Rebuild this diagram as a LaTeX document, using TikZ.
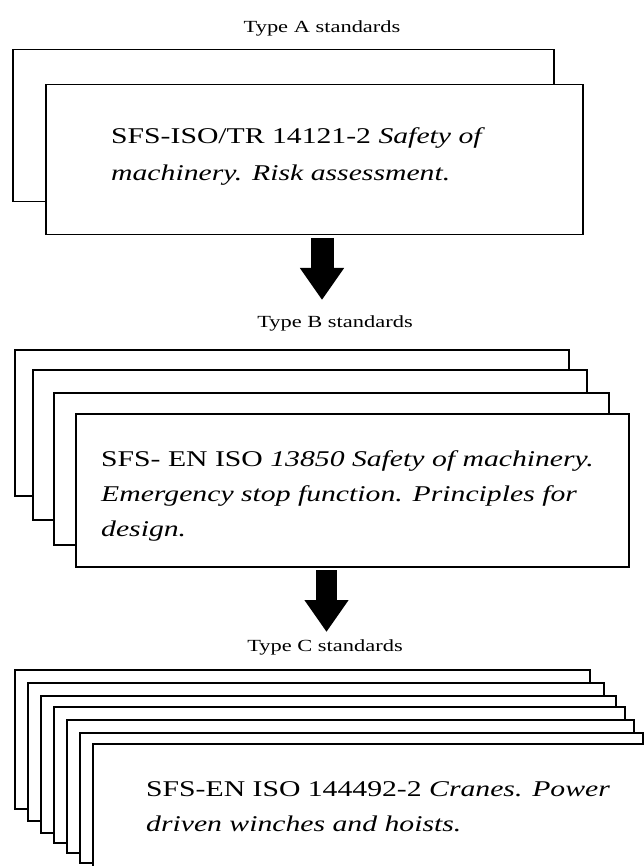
\documentclass[tikz,border=0pt]{standalone}
\usepackage{fontspec}
\setmainfont{Liberation Serif}[FakeStretch=1.32]
\usetikzlibrary{arrows.meta}
\newcommand\cardbox[5]{\node[card, anchor=north west, minimum width={(#4-#2)*1pt}, minimum height={(#5-#3)*1pt}] (#1) at (#2,#3) {};}
\begin{document}
\begin{tikzpicture}[x=1pt,y=-1pt,
  card/.style={draw=black, fill=white, line width=1.5pt, inner sep=0pt, rectangle},
  body/.style={font=\fontsize{22.5}{35}\selectfont, anchor=base west, inner sep=0pt},
  lbl/.style={font=\fontsize{17}{20}\selectfont, anchor=base, inner sep=0pt},
  blockarrow/.style={line width=#1, -{Triangle[width=42pt,length=32pt]}}]
\useasboundingbox (0,0) rectangle (644,866);
\clip (0,0) rectangle (644,866);
% Type A
\node[lbl] (la) at (322,33) {Type A standards};
\cardbox{a1}{12}{49}{553}{201}
\cardbox{a2}{45}{84}{582}{234}
\node[body] (at1) at (111,144) {SFS-ISO/TR 14121-2 \textit{Safety of}};
\node[body] (at2) at (111,181) {\textit{machinery. Risk assessment.}};
% arrow 1
\coordinate (r1s) at (322,238);
\coordinate (r1e) at (322,300);
\draw[blockarrow=23pt] (r1s) -- (r1e);
% Type B
\node[lbl] (lb) at (335,327) {Type B standards};
\cardbox{b1}{14}{349}{568}{495}
\cardbox{b2}{32}{369}{586}{519}
\cardbox{b3}{53}{392}{608}{544}
\cardbox{b4}{75}{413}{628}{566}
\node[body] (bt1) at (101,466) {SFS- EN ISO \textit{13850 Safety of machinery.}};
\node[body] (bt2) at (101,501) {\textit{Emergency stop function. Principles for}};
\node[body] (bt3) at (101,536) {\textit{design.}};
% arrow 2
\coordinate (r2s) at (326.5,570);
\coordinate (r2e) at (326.5,632);
\draw[blockarrow=21pt] (r2s) -- (r2e);
% Type C
\node[lbl] (lc) at (325,651) {Type C standards};
\cardbox{c1}{14}{669}{589}{808}
\cardbox{c2}{27}{682}{603}{820}
\cardbox{c3}{40}{695}{615}{832}
\cardbox{c4}{53}{706}{624}{842}
\cardbox{c5}{66}{719}{633}{852}
\cardbox{c6}{79}{732}{642}{862}
\cardbox{c7}{92}{743}{680}{900}
\node[body] (ct1) at (146,796) {SFS-EN ISO 144492-2 \textit{Cranes. Power}};
\node[body] (ct2) at (146,831) {\textit{driven winches and hoists.}};
\end{tikzpicture}
\end{document}
